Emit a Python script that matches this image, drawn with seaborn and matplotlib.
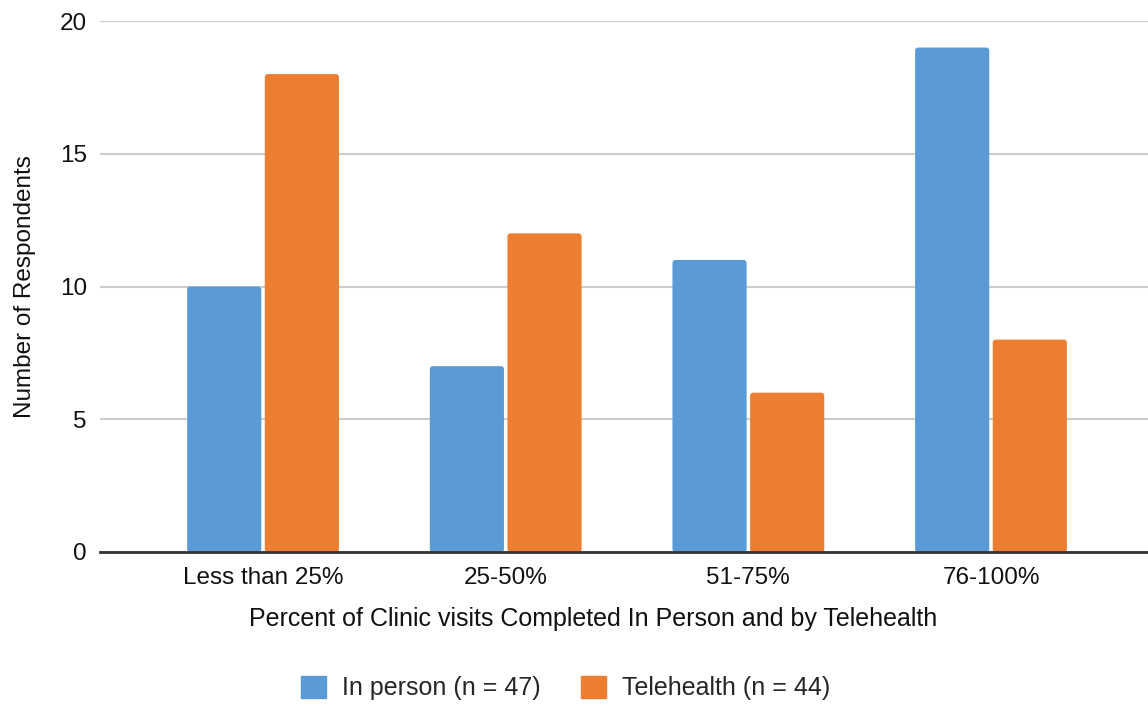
import matplotlib
matplotlib.use("Agg")
import matplotlib.pyplot as plt
import seaborn as sns
import pandas as pd
from matplotlib.patches import Patch, FancyBboxPatch

categories = ["Less than 25%", "25-50%", "51-75%", "76-100%"]
in_person = [10, 7, 11, 19]
telehealth = [18, 12, 6, 8]
series_names = ["In person (n = 47)", "Telehealth (n = 44)"]
colors = ["#5B9BD5", "#ED7D31"]

df = pd.DataFrame({
    "category": categories * 2,
    "value": in_person + telehealth,
    "series": [series_names[0]] * 4 + [series_names[1]] * 4,
})

sns.set_theme(style="white")
plt.rcParams["font.family"] = ["Liberation Sans", "DejaVu Sans"]

W, H = 1148, 705
fig = plt.figure(figsize=(W / 100, H / 100), dpi=100)
ax = fig.add_axes([100 / W, 1 - 552 / H, 1 - 100 / W, (552 - 21) / H])

sns.barplot(data=df, x="category", y="value", hue="series", order=categories,
            hue_order=series_names, palette=colors, width=0.64, gap=0.045,
            saturation=1, ax=ax, legend=False, linewidth=0, zorder=3)

xlim = (-0.672, 3.647)
ylim = (0, 20)
ax.set_ylim(*ylim)
ax.set_xlim(*xlim)

# rounded corners on bars (same data coordinates as seaborn's bars)
px_per_x = (W - 100) / (xlim[1] - xlim[0])
px_per_y = (552 - 21) / (ylim[1] - ylim[0])
r = 3 / px_per_x
aspect = px_per_x / px_per_y
for p in list(ax.patches):
    x0, y0 = p.get_x(), p.get_y()
    w, h = p.get_width(), p.get_height()
    fc = p.get_facecolor()
    p.remove()
    fb = FancyBboxPatch((x0, y0), w, h,
                        boxstyle=f"round,pad=0,rounding_size={r}",
                        mutation_aspect=aspect, facecolor=fc, edgecolor="none",
                        zorder=3)
    ax.add_patch(fb)

ax.set_yticks([0, 5, 10, 15, 20])
ax.yaxis.grid(True, color="#cccccc", linewidth=1.5, zorder=0)
ax.set_axisbelow(True)
for s in ["top", "right", "left"]:
    ax.spines[s].set_visible(False)
ax.spines["bottom"].set_color("#333333")
ax.spines["bottom"].set_linewidth(2)
ax.spines["bottom"].set_zorder(4)
fs = 17.5
ax.tick_params(axis="both", length=0, labelsize=fs, colors="#111111")
ax.tick_params(axis="y", pad=9.5)
ax.tick_params(axis="x", pad=11)
ax.set_xlabel("Percent of Clinic visits Completed In Person and by Telehealth",
              fontsize=18, labelpad=13, color="#111111")
ax.xaxis.set_label_coords((593.5 - 100) / (W - 100), -(617 - 552 + 2) / (552 - 21))
ax.xaxis.label.set_va("center")
ax.set_ylabel("Number of Respondents", fontsize=fs, color="#111111")
ax.yaxis.set_label_coords(-(100 - 36) / (W - 100), 0.5)

handles = [Patch(facecolor=c, edgecolor=c, label=n) for c, n in zip(colors, series_names)]
fig.legend(handles=handles, loc="center", bbox_to_anchor=(565.5 / W, 1 - 688 / H),
           ncol=2, frameon=False, fontsize=18, handlelength=1.0, handleheight=1.0,
           handletextpad=0.65, columnspacing=1.6)

fig.savefig("out.png", dpi=100)
